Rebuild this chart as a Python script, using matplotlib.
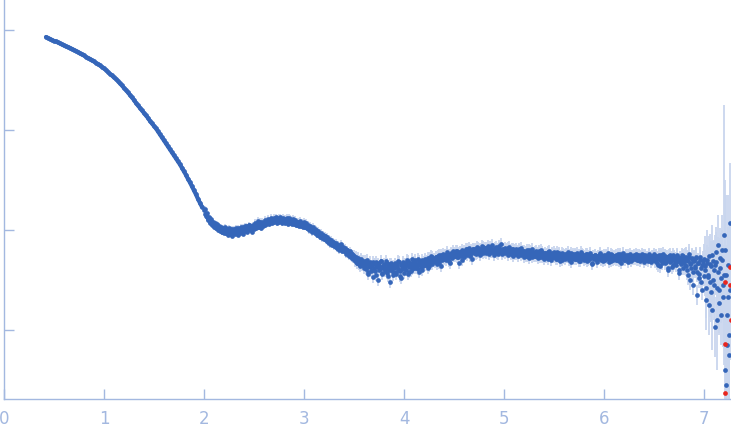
import numpy as np
import matplotlib
matplotlib.use('Agg')
import matplotlib.pyplot as plt

# log10 intensity, smooth part, q = 0.42 .. 1.98 (step 0.02)
lg_low = [-0.07, -0.08, -0.09, -0.10, -0.11, -0.115, -0.125, -0.135, -0.145, -0.155,
          -0.165, -0.17, -0.18, -0.19, -0.20, -0.21, -0.22, -0.235, -0.245, -0.255,
          -0.27, -0.28, -0.29, -0.305, -0.315, -0.33, -0.34, -0.355, -0.37, -0.385,
          -0.40, -0.42, -0.44, -0.455, -0.475, -0.49, -0.51, -0.535, -0.555, -0.58,
          -0.60, -0.625, -0.65, -0.675, -0.70, -0.73, -0.755, -0.78, -0.805, -0.83,
          -0.855, -0.88, -0.91, -0.935, -0.96, -0.985, -1.015, -1.045, -1.075, -1.105,
          -1.135, -1.165, -1.195, -1.225, -1.255, -1.285, -1.315, -1.345, -1.38, -1.415,
          -1.45, -1.49, -1.525, -1.565, -1.605, -1.645, -1.69, -1.73, -1.77]

# log10 intensity, q = 2.00 .. 7.26 (step 0.01), one row per 0.1
lg_high = [
    -1.80, -1.84, -1.84, -1.87, -1.89, -1.88, -1.92, -1.91, -1.94, -1.93,
    -1.96, -1.94, -1.98, -1.95, -1.99, -1.97, -2.00, -1.98, -2.02, -1.99,
    -2.01, -1.98, -2.03, -2.00, -1.99, -2.04, -2.01, -1.99, -2.03, -2.00,
    -2.02, -1.99, -2.01, -2.03, -1.98, -2.00, -2.02, -1.98, -2.00, -1.97,
    -1.99, -1.96, -2.00, -1.97, -1.99, -1.95, -1.98, -1.96, -1.99, -1.95,
    -1.97, -1.94, -1.96, -1.93, -1.97, -1.95, -1.92, -1.96, -1.93, -1.95,
    -1.93, -1.90, -1.94, -1.92, -1.90, -1.93, -1.91, -1.89, -1.92, -1.90,
    -1.88, -1.91, -1.89, -1.92, -1.90, -1.88, -1.91, -1.89, -1.92, -1.90,
    -1.89, -1.92, -1.90, -1.88, -1.92, -1.91, -1.89, -1.93, -1.91, -1.90,
    -1.94, -1.91, -1.93, -1.95, -1.92, -1.94, -1.92, -1.96, -1.93, -1.95,
    -1.94, -1.97, -1.95, -1.98, -1.96, -1.99, -1.97, -2.00, -1.98, -2.01,
    -2.01, -1.99, -2.03, -2.02, -2.05, -2.03, -2.06, -2.04, -2.07, -2.05,
    -2.08, -2.06, -2.10, -2.08, -2.12, -2.09, -2.13, -2.11, -2.14, -2.12,
    -2.13, -2.16, -2.14, -2.18, -2.15, -2.17, -2.19, -2.16, -2.20, -2.18,
    -2.21, -2.18, -2.22, -2.20, -2.24, -2.22, -2.26, -2.23, -2.28, -2.25,
    -2.26, -2.30, -2.28, -2.33, -2.29, -2.31, -2.35, -2.30, -2.34, -2.32,
    -2.36, -2.31, -2.38, -2.34, -2.42, -2.33, -2.37, -2.35, -2.40, -2.32,
    -2.38, -2.34, -2.45, -2.36, -2.33, -2.40, -2.37, -2.31, -2.43, -2.36,
    -2.35, -2.41, -2.38, -2.33, -2.46, -2.37, -2.34, -2.40, -2.36, -2.42,
    -2.38, -2.33, -2.44, -2.35, -2.39, -2.32, -2.41, -2.48, -2.36, -2.34,
    -2.37, -2.33, -2.40, -2.35, -2.31, -2.42, -2.36, -2.34, -2.39, -2.32,
    -2.35, -2.30, -2.37, -2.34, -2.39, -2.31, -2.35, -2.33, -2.40, -2.32,
    -2.33, -2.29, -2.35, -2.31, -2.28, -2.36, -2.30, -2.33, -2.27, -2.31,
    -2.29, -2.32, -2.27, -2.30, -2.26, -2.33, -2.28, -2.25, -2.30, -2.27,
    -2.28, -2.25, -2.29, -2.24, -2.27, -2.31, -2.25, -2.23, -2.28, -2.26,
    -2.23, -2.26, -2.24, -2.21, -2.27, -2.24, -2.22, -2.25, -2.30, -2.23,
    -2.21, -2.24, -2.22, -2.19, -2.23, -2.21, -2.25, -2.20, -2.22, -2.19,
    -2.22, -2.19, -2.21, -2.23, -2.18, -2.20, -2.24, -2.19, -2.21, -2.17,
    -2.20, -2.22, -2.18, -2.21, -2.19, -2.23, -2.17, -2.20, -2.22, -2.19,
    -2.21, -2.18, -2.20, -2.23, -2.19, -2.16, -2.21, -2.20, -2.24, -2.19,
    -2.20, -2.23, -2.19, -2.21, -2.18, -2.22, -2.20, -2.24, -2.21, -2.19,
    -2.22, -2.20, -2.24, -2.21, -2.23, -2.19, -2.22, -2.25, -2.21, -2.23,
    -2.21, -2.24, -2.22, -2.26, -2.23, -2.20, -2.24, -2.22, -2.27, -2.23,
    -2.24, -2.22, -2.26, -2.23, -2.25, -2.21, -2.27, -2.24, -2.22, -2.26,
    -2.25, -2.23, -2.27, -2.24, -2.22, -2.26, -2.25, -2.28, -2.23, -2.26,
    -2.27, -2.24, -2.26, -2.29, -2.25, -2.23, -2.27, -2.26, -2.30, -2.24,
    -2.26, -2.28, -2.24, -2.27, -2.25, -2.30, -2.26, -2.23, -2.28, -2.26,
    -2.27, -2.24, -2.29, -2.26, -2.28, -2.25, -2.31, -2.27, -2.24, -2.28,
    -2.26, -2.29, -2.27, -2.24, -2.30, -2.27, -2.25, -2.28, -2.33, -2.26,
    -2.28, -2.25, -2.27, -2.30, -2.26, -2.28, -2.24, -2.29, -2.27, -2.31,
    -2.27, -2.29, -2.25, -2.28, -2.26, -2.32, -2.27, -2.24, -2.28, -2.26,
    -2.29, -2.27, -2.25, -2.30, -2.27, -2.28, -2.24, -2.33, -2.27, -2.26,
    -2.27, -2.30, -2.26, -2.28, -2.25, -2.29, -2.27, -2.31, -2.26, -2.28,
    -2.26, -2.29, -2.27, -2.25, -2.30, -2.28, -2.26, -2.29, -2.27, -2.25,
    -2.28, -2.26, -2.30, -2.27, -2.29, -2.25, -2.28, -2.27, -2.30, -2.26,
    -2.27, -2.31, -2.26, -2.29, -2.35, -2.27, -2.30, -2.25, -2.33, -2.28,
    -2.28, -2.26, -2.32, -2.27, -2.38, -2.29, -2.25, -2.31, -2.28, -2.35,
    -2.27, -2.33, -2.29, -2.25, -2.31, -2.40, -2.28, -2.34, -2.30, -2.26,
    -2.32, -2.28, -2.36, -2.30, -2.45, -2.27, -2.34, -2.38, -2.29, -2.55,
    -2.31, -2.36, -2.27, -2.42, -2.33, -2.48, -2.30, -2.38, -2.60, -2.34,
    -2.29, -2.40, -2.70, -2.33, -2.45, -2.26, -2.52, -2.36, -2.80, -2.31,
    -2.55, -2.35, -2.22, -2.90, -2.42, -2.60, -2.28, -2.48, -2.20, -2.67,
    -2.05, -3.40, -2.45, -3.15, -2.67, -3.25, -1.93,
]

# log10 intensity, in-between frames, q = 2.005 .. 7.255 (step 0.01)
lg_mid = [
    -1.79, -1.86, -1.83, -1.90, -1.87, -1.93, -1.89, -1.95, -1.92, -1.97,
    -1.93, -1.98, -1.94, -2.00, -1.96, -2.01, -1.97, -2.02, -1.98, -2.03,
    -1.97, -2.03, -2.00, -2.05, -1.98, -2.04, -2.01, -2.06, -1.99, -2.03,
    -2.04, -1.98, -2.02, -2.05, -1.99, -2.03, -1.97, -2.02, -2.04, -1.98,
    -2.01, -1.96, -2.02, -1.98, -1.95, -2.00, -1.97, -2.02, -1.96, -1.99,
    -1.93, -1.98, -1.95, -1.91, -1.97, -1.94, -1.98, -1.92, -1.96, -1.93,
    -1.95, -1.91, -1.93, -1.89, -1.94, -1.91, -1.88, -1.93, -1.90, -1.92,
    -1.91, -1.87, -1.93, -1.89, -1.92, -1.87, -1.90, -1.93, -1.88, -1.91,
    -1.93, -1.89, -1.91, -1.94, -1.88, -1.92, -1.90, -1.94, -1.89, -1.92,
    -1.90, -1.95, -1.92, -1.94, -1.96, -1.91, -1.95, -1.93, -1.97, -1.92,
    -1.97, -1.93, -1.98, -1.95, -2.00, -1.96, -1.99, -2.02, -1.97, -2.00,
    -2.03, -2.00, -2.05, -2.01, -2.04, -2.07, -2.03, -2.08, -2.05, -2.09,
    -2.06, -2.10, -2.07, -2.12, -2.10, -2.14, -2.10, -2.15, -2.12, -2.16,
    -2.16, -2.13, -2.18, -2.15, -2.20, -2.16, -2.14, -2.21, -2.17, -2.20,
    -2.19, -2.24, -2.20, -2.23, -2.26, -2.21, -2.27, -2.24, -2.29, -2.27,
    -2.31, -2.27, -2.33, -2.28, -2.34, -2.36, -2.29, -2.35, -2.31, -2.38,
    -2.34, -2.39, -2.30, -2.44, -2.36, -2.32, -2.41, -2.35, -2.47, -2.33,
    -2.41, -2.32, -2.37, -2.50, -2.35, -2.39, -2.31, -2.44, -2.38, -2.34,
    -2.39, -2.31, -2.43, -2.36, -2.40, -2.52, -2.33, -2.38, -2.45, -2.35,
    -2.34, -2.42, -2.37, -2.31, -2.40, -2.46, -2.35, -2.39, -2.32, -2.43,
    -2.39, -2.35, -2.30, -2.44, -2.37, -2.33, -2.41, -2.29, -2.36, -2.38,
    -2.32, -2.38, -2.35, -2.29, -2.42, -2.33, -2.37, -2.30, -2.36, -2.34,
    -2.30, -2.35, -2.32, -2.38, -2.28, -2.33, -2.26, -2.34, -2.31, -2.29,
    -2.31, -2.27, -2.34, -2.29, -2.25, -2.30, -2.36, -2.27, -2.24, -2.29,
    -2.26, -2.30, -2.22, -2.28, -2.25, -2.33, -2.24, -2.27, -2.21, -2.26,
    -2.25, -2.21, -2.27, -2.23, -2.33, -2.22, -2.26, -2.20, -2.24, -2.27,
    -2.23, -2.19, -2.25, -2.21, -2.18, -2.26, -2.22, -2.29, -2.19, -2.23,
    -2.20, -2.24, -2.17, -2.22, -2.19, -2.25, -2.21, -2.16, -2.23, -2.20,
    -2.18, -2.23, -2.20, -2.16, -2.24, -2.19, -2.22, -2.15, -2.21, -2.25,
    -2.22, -2.17, -2.21, -2.24, -2.18, -2.20, -2.14, -2.23, -2.19, -2.22,
    -2.18, -2.22, -2.20, -2.25, -2.17, -2.21, -2.23, -2.19, -2.26, -2.20,
    -2.24, -2.19, -2.22, -2.26, -2.20, -2.23, -2.18, -2.24, -2.21, -2.27,
    -2.22, -2.26, -2.20, -2.24, -2.28, -2.21, -2.25, -2.19, -2.23, -2.26,
    -2.26, -2.21, -2.24, -2.28, -2.22, -2.25, -2.20, -2.27, -2.24, -2.29,
    -2.23, -2.27, -2.24, -2.29, -2.21, -2.26, -2.30, -2.24, -2.27, -2.22,
    -2.25, -2.29, -2.22, -2.27, -2.24, -2.31, -2.26, -2.23, -2.28, -2.25,
    -2.29, -2.24, -2.27, -2.22, -2.28, -2.25, -2.32, -2.27, -2.24, -2.29,
    -2.25, -2.29, -2.23, -2.27, -2.31, -2.26, -2.22, -2.28, -2.25, -2.30,
    -2.28, -2.24, -2.31, -2.26, -2.29, -2.23, -2.27, -2.34, -2.26, -2.29,
    -2.25, -2.29, -2.32, -2.26, -2.28, -2.23, -2.30, -2.26, -2.29, -2.25,
    -2.30, -2.26, -2.28, -2.23, -2.29, -2.27, -2.31, -2.25, -2.30, -2.27,
    -2.26, -2.30, -2.28, -2.24, -2.31, -2.26, -2.29, -2.27, -2.23, -2.30,
    -2.29, -2.25, -2.28, -2.32, -2.27, -2.24, -2.30, -2.26, -2.29, -2.25,
    -2.28, -2.24, -2.30, -2.27, -2.25, -2.31, -2.27, -2.24, -2.29, -2.32,
    -2.25, -2.29, -2.27, -2.31, -2.24, -2.28, -2.32, -2.26, -2.29, -2.24,
    -2.30, -2.26, -2.33, -2.28, -2.25, -2.36, -2.27, -2.31, -2.24, -2.29,
    -2.33, -2.27, -2.30, -2.40, -2.26, -2.32, -2.28, -2.37, -2.25, -2.30,
    -2.29, -2.35, -2.26, -2.31, -2.43, -2.28, -2.33, -2.25, -2.38, -2.30,
    -2.35, -2.27, -2.40, -2.31, -2.24, -2.50, -2.33, -2.28, -2.42, -2.30,
    -2.38, -2.28, -2.65, -2.33, -2.44, -2.27, -2.52, -2.35, -2.31, -2.46,
    -2.36, -2.58, -2.30, -2.47, -2.75, -2.34, -2.62, -2.25, -2.50, -2.40,
    -2.97, -2.32, -2.58, -2.15, -2.73, -2.38, -2.85, -2.30, -2.55, -2.45,
    -2.20, -3.55, -2.85, -2.35, -3.05, -2.60,
]

# error (decades) by q band
err_edges = [2.0, 2.5, 3.5, 4.5, 6.5, 6.8, 7.0, 7.2]
err_level = [0.006, 0.025, 0.035, 0.055, 0.055, 0.07, 0.1, 0.3, 0.7]
# explicit errors for the last frames of lg_high, q = 7.00 .. 7.26
err_tail = [0.15, 0.2, 0.3, 0.18, 0.25, 0.2, 0.35, 0.25, 0.4, 0.2,
            0.35, 0.3, 0.25, 0.5, 0.35, 0.45, 0.3, 0.45, 0.35, 0.5,
            1.3, 1.0, 0.8, 0.9, 0.7, 0.9, 0.6]

# flagged points (red)
q_red = [7.21, 7.21, 7.21, 7.257, 7.257, 7.267]
lg_red = [-3.63, -3.14, -2.52, -2.37, -2.55, -2.90]

q_low = 0.42 + 0.02 * np.arange(len(lg_low))
q_high = 2.00 + 0.01 * np.arange(len(lg_high))
q_mid = 2.005 + 0.01 * np.arange(len(lg_mid))

err_high = np.array(err_level)[np.digitize(q_high, err_edges)]
err_high[-len(err_tail):] = err_tail
err_mid = np.array(err_level)[np.digitize(q_mid, err_edges)]
err_low = np.array(err_level)[np.digitize(q_low, err_edges)]

q = np.concatenate([q_low, q_high, q_mid])
lg = np.concatenate([lg_low, lg_high, lg_mid])
err = np.concatenate([err_low, err_high, err_mid])

blue = '#3566b9'
axcol = '#a3b8e0'
fig = plt.figure(figsize=(7.31, 4.37), dpi=100)
ax = fig.add_axes([4 / 731, 38 / 437, 727 / 731, 399 / 437])

ax.errorbar(q, lg, yerr=err, fmt='none', ecolor='#c9d6ee', elinewidth=1.3, zorder=1)
ax.plot(q_low, lg_low, '-', lw=3.0, color=blue, zorder=2, solid_capstyle='round')
ax.plot(q, lg, 'o', ms=3.4, mew=0, color=blue, zorder=2)
ax.plot(q_red, lg_red, 'o', ms=3.4, mew=0, color='#e8261f', zorder=3)

ax.set_xlim(0, 7.27)
ax.set_ylim(-3.69, 0.30)
ax.set_xticks(range(8))
ax.set_yticks([0, -1, -2, -3])
ax.set_yticklabels([])
ax.tick_params(direction='in', length=7, width=1, color=axcol, labelcolor=axcol,
               labelsize=12, pad=8)
for s in ['top', 'right']:
    ax.spines[s].set_visible(False)
for s in ['left', 'bottom']:
    ax.spines[s].set_color(axcol)
    ax.spines[s].set_linewidth(1)

fig.savefig('out.png', dpi=100)
